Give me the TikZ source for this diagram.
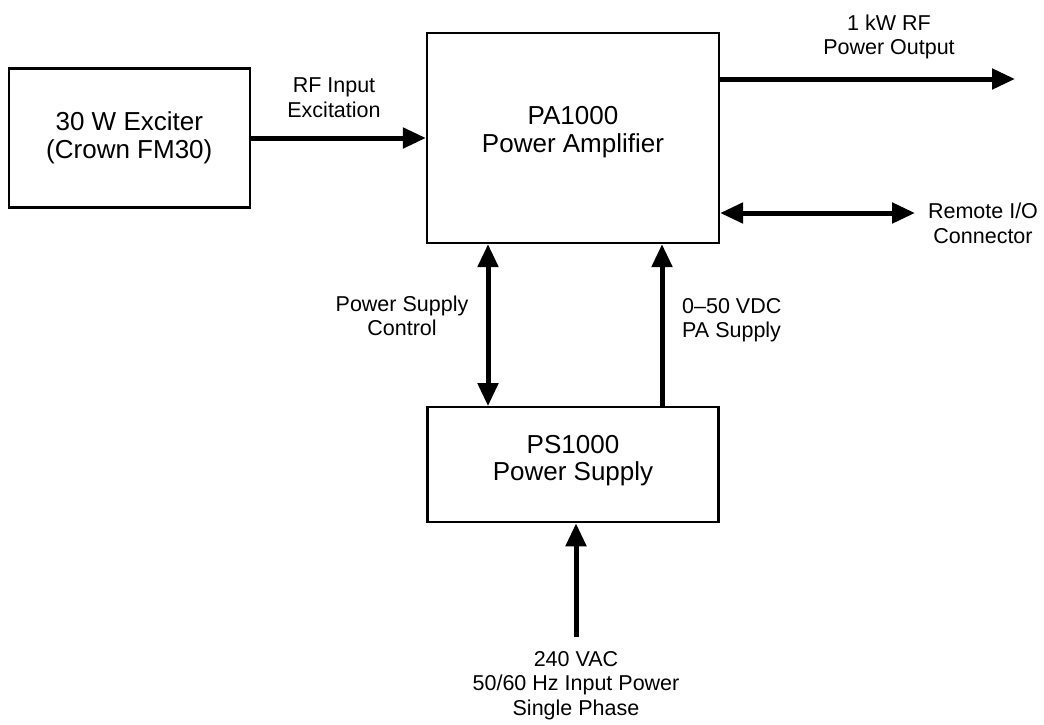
\documentclass[tikz,border=0pt]{standalone}
\usepackage{fontspec}
\setmainfont{Liberation Sans}
\usetikzlibrary{arrows.meta, positioning, calc}
\tikzset{
  blk/.style={
    rectangle,
    draw, line width=2.2pt, inner sep=0pt, align=center,
    font=\fontsize{26}{27.5}\selectfont,
  },
  blktxt/.style={
    inner sep=0pt, align=center,
    font=\fontsize{26}{27.5}\selectfont,
  },
  lbl/.style={
    inner sep=0pt, align=center,
    font=\fontsize{21.5}{24.5}\selectfont,
  },
  arrow/.style={-{Triangle[length=23pt, width=20pt]}, line width=5pt},
  dblarrow/.style={{Triangle[length=23pt, width=20pt]}-{Triangle[length=23pt, width=20pt]}, line width=5pt},
}

\begin{document}
\begin{tikzpicture}[x=1pt, y=-1pt]
  \useasboundingbox (0,0) rectangle (1044,724);
  \node[blk, minimum width=292pt, minimum height=210pt] (pa) at (573,138) {};
  \node[blk, minimum width=241pt, minimum height=139pt, left=175pt of pa] (exciter) {30 W Exciter\\(Crown FM30)};
  \node[blk, minimum width=291pt, minimum height=115pt, below=162pt of pa] (ps) {};
  \node[blktxt] (patxt) at ([yshift=6pt]pa.center) {PA1000\\Power Amplifier};
  \node[blktxt] (pstxt) at ([yshift=4pt]ps.center) {PS1000\\Power Supply};

  \coordinate (rfout) at (1015,79);
  \coordinate (remio) at (915,213);
  \coordinate (acin) at (576,637);

  \node[lbl] (rfinlbl) at (334,97.5) {RF Input\\Excitation};
  \node[lbl] (rfoutlbl) at (889,37) {1 kW RF\\Power Output};
  \node[lbl] (remiolbl) at (983,223.5) {Remote I/O\\Connector};
  \node[lbl] (psclbl) at (402,316) {Power Supply\\Control};
  \node[lbl, align=left, anchor=west] (vdclbl) at (682,320) {0--50 VDC\\PA Supply};
  \node[lbl] (aclbl) at (576,685.5) {240 VAC\\50/60 Hz Input Power\\Single Phase};

  \draw[arrow] (exciter.east) -- (exciter.east -| pa.west);
  \draw[arrow] (pa.east |- rfout) -- (rfout);
  \draw[dblarrow] (pa.east |- remio) -- (remio);
  \draw[dblarrow] ([xshift=-85pt]pa.south) -- ([xshift=-85pt]ps.north);
  \draw[arrow] ([xshift=89pt]ps.north) -- ([xshift=89pt]pa.south);
  \draw[arrow] (acin) -- (acin |- ps.south);
\end{tikzpicture}
\end{document}
